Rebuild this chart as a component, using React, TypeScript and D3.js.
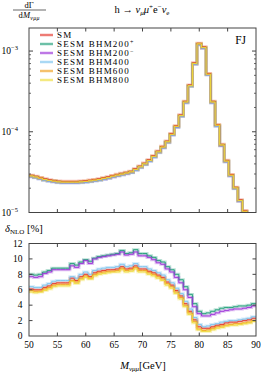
import React from "react";
import * as d3 from "d3";

const edges = d3.range(0, 51).map((i) => 50 + 0.8 * i);
const xTicks = [50, 55, 60, 65, 70, 75, 80, 85, 90];
const deltaTicks = [0, 2, 4, 6, 8, 10, 12];

const seriesNames = ["SM", "SESM BHM200", "SESM BHM200", "SESM BHM400", "SESM BHM600", "SESM BHM800"];
const seriesSup = ["", "+", "\u2212", "", "", ""];
const seriesColors = ["#e4342a", "#1f9e78", "#9b30d8", "#7cc4ee", "#f0a01e", "#eedd3c"];

// dGamma/dM in units of 1e-5
const topSM = [2.90, 2.82, 2.72, 2.62, 2.55, 2.50, 2.45, 2.43, 2.43, 2.43,
  2.43, 2.45, 2.48, 2.52, 2.57, 2.62, 2.70, 2.77, 2.88, 2.97,
  3.06, 3.15, 3.25, 3.49, 3.76, 4.09, 4.51, 5.06, 5.77, 6.60,
  7.68, 9.50, 11.9, 16.2, 23.9, 38.1, 71.6, 125, 113, 52.8,
  23.9, 12.3, 7.0, 4.43, 2.96, 2.06, 1.44, 1.06, 0.75, 0.55];
const top200p = [2.81, 2.74, 2.64, 2.54, 2.47, 2.43, 2.38, 2.36, 2.36, 2.36,
  2.36, 2.38, 2.41, 2.44, 2.49, 2.54, 2.62, 2.69, 2.79, 2.88,
  2.97, 3.06, 3.15, 3.39, 3.65, 3.97, 4.37, 4.91, 5.60, 6.40,
  7.45, 9.22, 11.5, 15.7, 23.2, 37.0, 69.5, 121, 110, 51.2,
  23.2, 11.9, 6.8, 4.30, 2.87, 2.00, 1.40, 1.03, 0.73, 0.53];
const top200m = [2.78, 2.71, 2.61, 2.52, 2.45, 2.40, 2.35, 2.33, 2.33, 2.33,
  2.33, 2.35, 2.38, 2.42, 2.47, 2.52, 2.59, 2.66, 2.76, 2.85,
  2.94, 3.02, 3.12, 3.35, 3.61, 3.93, 4.33, 4.86, 5.54, 6.34,
  7.37, 9.12, 11.4, 15.6, 22.9, 36.6, 68.7, 120, 108, 50.7,
  22.9, 11.8, 6.7, 4.25, 2.84, 1.98, 1.38, 1.02, 0.72, 0.53];
const top400 = [2.77, 2.69, 2.60, 2.50, 2.44, 2.39, 2.34, 2.32, 2.32, 2.32,
  2.32, 2.34, 2.37, 2.41, 2.45, 2.50, 2.58, 2.65, 2.75, 2.84,
  2.92, 3.01, 3.10, 3.33, 3.59, 3.91, 4.31, 4.83, 5.51, 6.30,
  7.33, 9.07, 11.4, 15.5, 22.8, 36.4, 68.4, 119, 108, 50.4,
  22.8, 11.7, 6.7, 4.23, 2.83, 1.97, 1.38, 1.01, 0.72, 0.53];
const top600 = [2.83, 2.75, 2.65, 2.55, 2.49, 2.44, 2.39, 2.37, 2.37, 2.37,
  2.37, 2.39, 2.42, 2.46, 2.51, 2.55, 2.63, 2.70, 2.81, 2.90,
  2.98, 3.07, 3.17, 3.40, 3.67, 3.99, 4.40, 4.93, 5.63, 6.44,
  7.49, 9.26, 11.6, 15.8, 23.3, 37.1, 69.8, 122, 110, 51.5,
  23.3, 12.0, 6.8, 4.32, 2.89, 2.01, 1.40, 1.03, 0.73, 0.54];
const top800 = [2.84, 2.76, 2.67, 2.57, 2.50, 2.45, 2.40, 2.38, 2.38, 2.38,
  2.38, 2.40, 2.43, 2.47, 2.52, 2.57, 2.65, 2.71, 2.82, 2.91,
  3.00, 3.09, 3.19, 3.42, 3.68, 4.01, 4.42, 4.96, 5.65, 6.47,
  7.53, 9.31, 11.7, 15.9, 23.4, 37.3, 70.2, 123, 111, 51.7,
  23.4, 12.1, 6.9, 4.34, 2.90, 2.02, 1.41, 1.04, 0.74, 0.54];

// delta_NLO in %
const dSM = [6.1, 6.0, 6.0, 6.3, 6.5, 6.8, 6.9, 6.9, 6.9, 7.5,
  7.2, 7.7, 8.0, 7.7, 8.2, 8.4, 8.5, 8.6, 8.6, 8.7,
  9.0, 8.7, 8.8, 9.1, 8.7, 8.7, 8.4, 8.2, 7.9, 7.6,
  7.0, 6.6, 5.9, 5.2, 4.2, 3.2, 2.1, 1.2, 1.0, 1.0,
  1.2, 1.4, 1.5, 1.7, 1.8, 1.8, 1.9, 2.0, 2.1, 2.3];
const d200p = [8.0, 7.9, 8.0, 8.3, 8.5, 8.8, 8.8, 8.8, 8.8, 9.4,
  9.2, 9.6, 9.9, 9.7, 10.1, 10.3, 10.4, 10.5, 10.6, 10.7,
  11.1, 10.7, 10.8, 11.2, 10.7, 10.7, 10.4, 10.2, 9.8, 9.6,
  9.0, 8.6, 8.0, 7.3, 6.4, 5.4, 4.2, 3.2, 2.9, 3.0,
  3.2, 3.4, 3.6, 3.7, 3.7, 3.8, 3.9, 3.9, 4.0, 4.2];
const d200m = [7.7, 7.6, 7.7, 8.1, 8.3, 8.6, 8.6, 8.6, 8.6, 9.1,
  8.9, 9.4, 9.8, 9.4, 10.0, 10.2, 10.3, 10.4, 10.5, 10.6,
  10.9, 10.5, 10.6, 10.9, 10.4, 10.4, 10.2, 9.9, 9.5, 9.3,
  8.7, 8.3, 7.6, 6.9, 6.0, 5.0, 3.8, 2.9, 2.6, 2.6,
  2.8, 3.0, 3.2, 3.3, 3.4, 3.5, 3.5, 3.6, 3.7, 3.9];
const d400 = [6.4, 6.3, 6.3, 6.6, 6.8, 7.1, 7.2, 7.2, 7.2, 7.7,
  7.5, 8.0, 8.3, 8.0, 8.5, 8.7, 8.8, 8.9, 8.9, 9.0,
  9.3, 9.0, 9.1, 9.4, 9.0, 9.0, 8.7, 8.5, 8.2, 7.9,
  7.3, 6.9, 6.2, 5.5, 4.5, 3.5, 2.4, 1.5, 1.2, 1.3,
  1.5, 1.6, 1.8, 1.9, 2.0, 2.0, 2.1, 2.2, 2.3, 2.5];
const d600 = [5.9, 5.8, 5.8, 6.1, 6.3, 6.6, 6.7, 6.7, 6.7, 7.2,
  7.0, 7.5, 7.8, 7.5, 8.0, 8.2, 8.3, 8.4, 8.4, 8.5,
  8.8, 8.5, 8.6, 8.9, 8.5, 8.5, 8.2, 8.0, 7.7, 7.4,
  6.8, 6.4, 5.7, 5.0, 4.0, 3.0, 1.9, 0.9, 0.7, 0.8,
  1.0, 1.2, 1.3, 1.4, 1.5, 1.6, 1.6, 1.7, 1.8, 2.0];
const d800 = [5.7, 5.6, 5.7, 5.9, 6.1, 6.4, 6.5, 6.5, 6.5, 7.1,
  6.8, 7.3, 7.6, 7.4, 7.8, 8.0, 8.1, 8.2, 8.3, 8.3,
  8.6, 8.3, 8.4, 8.7, 8.3, 8.3, 8.0, 7.8, 7.5, 7.2,
  6.6, 6.2, 5.5, 4.8, 3.8, 2.8, 1.7, 0.8, 0.6, 0.6,
  0.8, 1.0, 1.1, 1.3, 1.4, 1.4, 1.5, 1.6, 1.7, 1.9];

const topSeries = [topSM, top200p, top200m, top400, top600, top800];
const deltaSeries = [dSM, d200p, d200m, d400, d600, d800];

const FONT = "'Liberation Serif', 'DejaVu Serif', serif";
const L = 29, R = 256;
const T1 = 28, B1 = 212.5;
const T2 = 243.5, B2 = 336;

export default function App() {
  const x = d3.scaleLinear().domain([50, 90]).range([L, R]);
  const yTop = d3.scaleLog().domain([1e-5, 1.93e-3]).range([B1, T1]);
  const yBot = d3.scaleLinear().domain([0, 12]).range([B2, T2]);

  const stepLine = (vals: number[], yS: (v: number) => number, scale: number) => {
    const pts: [number, number][] = vals.map((v, i) => [x(edges[i]), yS(v * scale)]);
    pts.push([x(edges[50]), yS(vals[vals.length - 1] * scale)]);
    return d3.line().curve(d3.curveStepAfter)(pts) || "";
  };

  const frameColor = "#444";
  const minorTop: number[] = [];
  for (const e of [-5, -4, -3]) {
    for (let k = 2; k <= 9; k++) {
      const v = k * Math.pow(10, e);
      if (v < 1.93e-3) minorTop.push(v);
    }
  }
  const majorTop = [1e-5, 1e-4, 1e-3];

  return (
    <svg width={261} height={375} style={{ display: "block", position: "absolute", left: 0, top: 0 }} fontFamily={FONT}>
      <defs>
        <clipPath id="clipTop"><rect x={L} y={T1} width={R - L} height={B1 - T1} /></clipPath>
        <clipPath id="clipBot"><rect x={L} y={T2} width={R - L} height={B2 - T2} /></clipPath>
      </defs>
      <rect width={261} height={375} fill="#fff" />
      {/* Titles */}
      <text x={29} y={7.5} fontSize={8.5} textAnchor="middle">dΓ</text>
      <line x1={13} x2={46} y1={10} y2={10} stroke="#000" strokeWidth={0.6} />
      <text x={29} y={18} fontSize={8.5} textAnchor="middle" letterSpacing={0.3}>
        d<tspan fontStyle="italic">M</tspan><tspan fontSize={5.8} dy={1.8} fontStyle="italic">νμμ</tspan>
      </text>
      <text x={142} y={12.5} fontSize={10.5} textAnchor="middle">
        h → <tspan fontStyle="italic">ν</tspan><tspan fontSize={7} dy={2} fontStyle="italic">μ</tspan>
        <tspan dy={-2} fontStyle="italic">μ</tspan><tspan fontSize={7} dy={-4}>+</tspan>
        <tspan dy={4}>e</tspan><tspan fontSize={7} dy={-4}>−</tspan>
        <tspan dy={4} fontStyle="italic">ν</tspan><tspan fontSize={7} dy={2}>e</tspan>
      </text>

      {/* Top panel */}
      <g clipPath="url(#clipTop)">
        {topSeries.map((s, i) => (
          <path key={"tb" + i} d={stepLine(s, yTop, 1e-5)} fill="none" stroke={seriesColors[i]} strokeOpacity={0.3} strokeWidth={3} />
        ))}
        {topSeries.map((s, i) => (
          <path key={"tl" + i} d={stepLine(s, yTop, 1e-5)} fill="none" stroke={seriesColors[i]} strokeWidth={0.9} />
        ))}
      </g>
      <rect x={L} y={T1} width={R - L} height={B1 - T1} fill="none" stroke={frameColor} strokeWidth={1} />
      {majorTop.map((v) => (
        <g key={"mt" + v}>
          <line x1={L} x2={L + 4} y1={yTop(v)} y2={yTop(v)} stroke={frameColor} />
          <line x1={R} x2={R - 4} y1={yTop(v)} y2={yTop(v)} stroke={frameColor} />
        </g>
      ))}
      {minorTop.map((v) => (
        <g key={"nt" + v}>
          <line x1={L} x2={L + 2} y1={yTop(v)} y2={yTop(v)} stroke={frameColor} strokeWidth={0.8} />
          <line x1={R} x2={R - 2} y1={yTop(v)} y2={yTop(v)} stroke={frameColor} strokeWidth={0.8} />
        </g>
      ))}
      {xTicks.slice(1, -1).map((t) => (
        <g key={"xt1" + t}>
          <line x1={x(t)} x2={x(t)} y1={B1} y2={B1 - 3.5} stroke={frameColor} />
          <line x1={x(t)} x2={x(t)} y1={T1} y2={T1 + 3.5} stroke={frameColor} />
        </g>
      ))}
      {majorTop.map((v) => (
        <text key={"lt" + v} x={1.5} y={yTop(v) + 3.2} fontSize={9.5}>
          10<tspan fontSize={6.5} dy={-4.2}>{"−" + String(-Math.round(Math.log10(v)))}</tspan>
        </text>
      ))}
      <text x={246} y={44} fontSize={11.5} textAnchor="end">FJ</text>
      {/* Legend */}
      {seriesNames.map((n, i) => {
        const ly = 35 + i * 9;
        return (
          <g key={"lg" + i}>
            <line x1={40} x2={53} y1={ly} y2={ly} stroke={seriesColors[i]} strokeWidth={3} strokeOpacity={0.3} />
            <line x1={40} x2={53} y1={ly} y2={ly} stroke={seriesColors[i]} strokeWidth={1} />
            <text x={57} y={ly + 3.1} fontSize={9} letterSpacing={1.2}>
              {n}{seriesSup[i] ? <tspan fontSize={6} dy={-3.6}>{seriesSup[i]}</tspan> : null}
            </text>
          </g>
        );
      })}

      {/* Bottom panel */}
      <text x={5} y={232} fontSize={10.5}>
        <tspan fontStyle="italic">δ</tspan><tspan fontSize={7} dy={2}>NLO</tspan><tspan dy={-2}> [%]</tspan>
      </text>
      <g clipPath="url(#clipBot)">
        {deltaSeries.map((s, i) => (
          <path key={"bb" + i} d={stepLine(s, yBot, 1)} fill="none" stroke={seriesColors[i]} strokeOpacity={0.3} strokeWidth={3} />
        ))}
        {deltaSeries.map((s, i) => (
          <path key={"bl" + i} d={stepLine(s, yBot, 1)} fill="none" stroke={seriesColors[i]} strokeWidth={0.9} />
        ))}
      </g>
      <rect x={L} y={T2} width={R - L} height={B2 - T2} fill="none" stroke={frameColor} strokeWidth={1} />
      {deltaTicks.slice(1, -1).map((t) => (
        <g key={"yt2" + t}>
          <line x1={L} x2={L + 3.5} y1={yBot(t)} y2={yBot(t)} stroke={frameColor} />
          <line x1={R} x2={R - 3.5} y1={yBot(t)} y2={yBot(t)} stroke={frameColor} />
        </g>
      ))}
      {deltaTicks.map((t) => (
        <text key={"yl2" + t} x={22.5} y={yBot(t) + 3.3} fontSize={9.5} textAnchor="end">{t}</text>
      ))}
      {xTicks.slice(1, -1).map((t) => (
        <g key={"xt2" + t}>
          <line x1={x(t)} x2={x(t)} y1={B2} y2={B2 - 3.5} stroke={frameColor} />
          <line x1={x(t)} x2={x(t)} y1={T2} y2={T2 + 3.5} stroke={frameColor} />
        </g>
      ))}
      {xTicks.map((t) => (
        <text key={"xl" + t} x={x(t)} y={347.5} fontSize={9.5} textAnchor="middle">{t}</text>
      ))}
      <text x={143} y={369} fontSize={10.5} textAnchor="middle">
        <tspan fontStyle="italic">M</tspan><tspan fontSize={7} dy={2} fontStyle="italic">νμμ</tspan><tspan dy={-2}>[GeV]</tspan>
      </text>
    </svg>
  );
}
